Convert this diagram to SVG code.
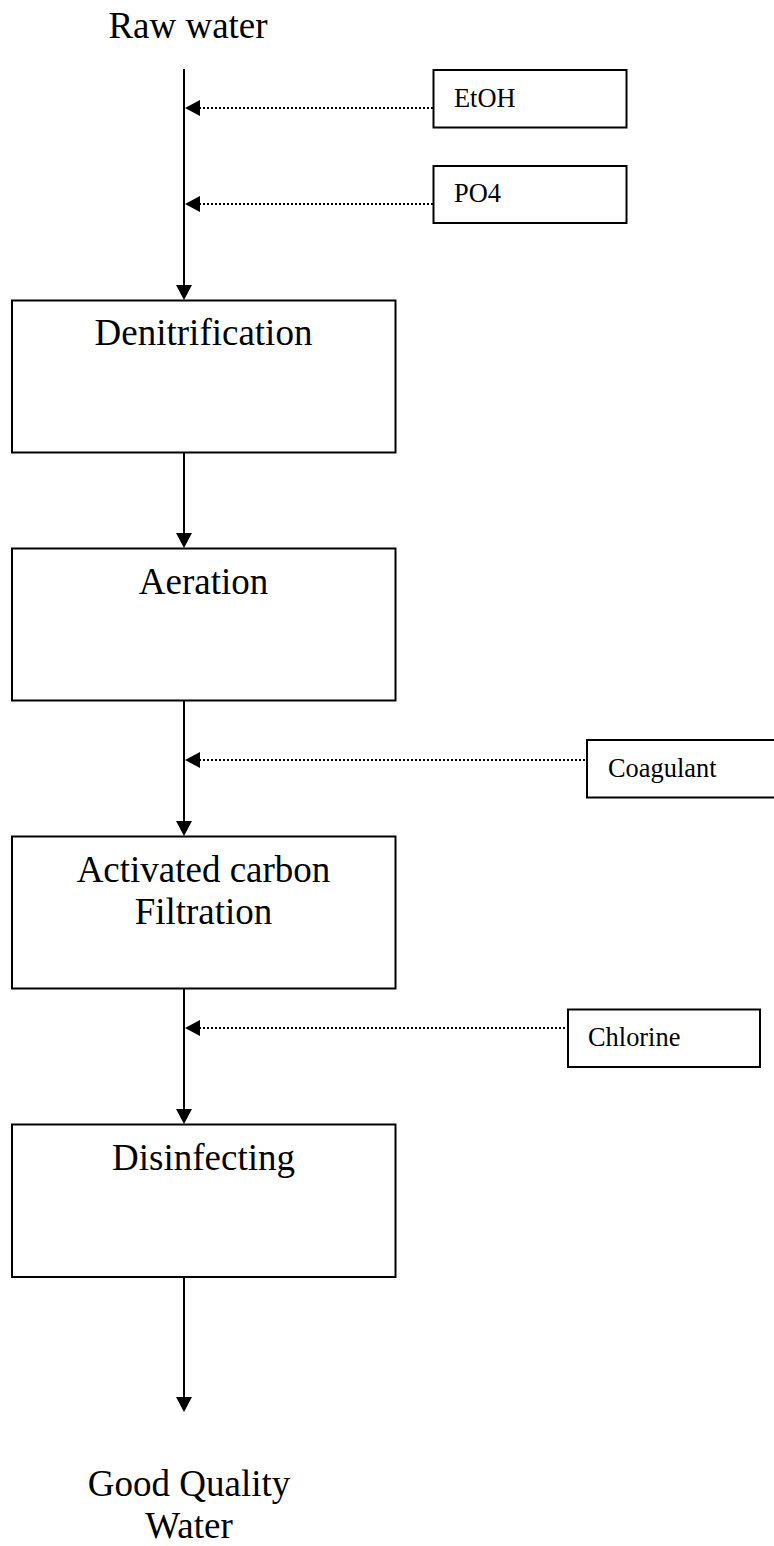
<svg xmlns="http://www.w3.org/2000/svg" width="774" height="1546" viewBox="0 0 774 1546">
<style>
.box{fill:#fff;stroke:#000;stroke-width:2}
.big{font-family:"Liberation Serif","Times New Roman",serif;font-size:37px;fill:#000}
.small{font-family:"Liberation Serif","Times New Roman",serif;font-size:26.4px;fill:#000}
.flow{stroke:#000;stroke-width:2;fill:none}
.dot{stroke:#000;stroke-width:2.2;fill:none;stroke-dasharray:2 2}
.head{fill:#000}
</style>
<rect width="774" height="1546" fill="#fff"/>
<g id="raw-water"><text class="big" x="188" y="38" text-anchor="middle">Raw water</text></g>
<g id="etoh"><rect class="box" x="433.5" y="70" width="193" height="57.5"/><text class="small" x="454" y="107">EtOH</text></g>
<g id="po4"><rect class="box" x="433.5" y="166" width="193" height="57"/><text class="small" x="454" y="202">PO4</text></g>
<g id="denitrification"><rect class="box" x="12" y="300.5" width="383.5" height="152"/><text class="big" x="203.5" y="345" text-anchor="middle">Denitrification</text></g>
<g id="aeration"><rect class="box" x="12" y="548.5" width="383.5" height="152"/><text class="big" x="203.5" y="594" text-anchor="middle">Aeration</text></g>
<g id="coagulant"><rect class="box" x="587" y="740" width="200" height="57.5"/><text class="small" x="608" y="777">Coagulant</text></g>
<g id="activated-carbon"><rect class="box" x="12" y="836.5" width="383.5" height="152"/><text class="big" x="203.5" y="882" text-anchor="middle">Activated carbon</text><text class="big" x="203.5" y="923.5" text-anchor="middle">Filtration</text></g>
<g id="chlorine"><rect class="box" x="568" y="1009.5" width="192" height="57.5"/><text class="small" x="588" y="1046">Chlorine</text></g>
<g id="disinfecting"><rect class="box" x="12" y="1124.5" width="383.5" height="152.5"/><text class="big" x="203.5" y="1170" text-anchor="middle">Disinfecting</text></g>
<g id="good-quality-water"><text class="big" x="189" y="1496" text-anchor="middle">Good Quality</text><text class="big" x="189" y="1538" text-anchor="middle">Water</text></g>
<g id="connectors">
<line class="flow" x1="184" y1="69" x2="184" y2="287"/>
<polygon class="head" points="176,285 192,285 184,300"/>
<line class="flow" x1="184" y1="453" x2="184" y2="535"/>
<polygon class="head" points="176,533 192,533 184,548"/>
<line class="flow" x1="184" y1="701" x2="184" y2="823"/>
<polygon class="head" points="176,821 192,821 184,836"/>
<line class="flow" x1="184" y1="989" x2="184" y2="1111"/>
<polygon class="head" points="176,1109 192,1109 184,1124"/>
<line class="flow" x1="184" y1="1277" x2="184" y2="1399"/>
<polygon class="head" points="176,1397 192,1397 184,1412"/>
<line class="dot" x1="199" y1="108" x2="433" y2="108"/>
<polygon class="head" points="185,108 200,100 200,116"/>
<line class="dot" x1="199" y1="204" x2="433" y2="204"/>
<polygon class="head" points="185,204 200,196 200,212"/>
<line class="dot" x1="199" y1="760" x2="587" y2="760"/>
<polygon class="head" points="185,760 200,752 200,768"/>
<line class="dot" x1="199" y1="1028" x2="568" y2="1028"/>
<polygon class="head" points="185,1028 200,1020 200,1036"/>
</g>
</svg>
